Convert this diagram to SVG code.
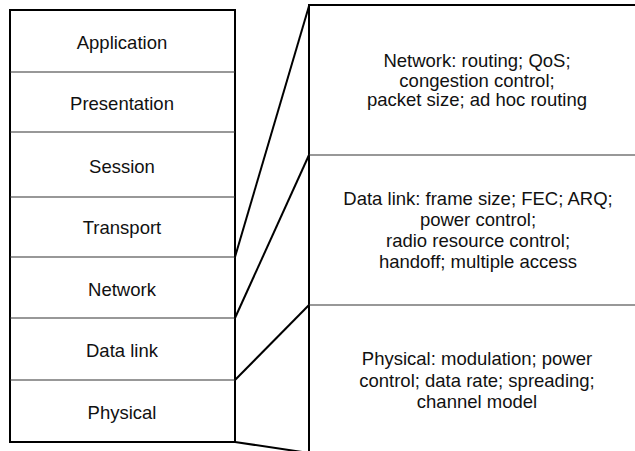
<svg xmlns="http://www.w3.org/2000/svg" width="635" height="451" viewBox="0 0 635 451">
<style>
text{font-family:"Liberation Sans",Arial,Helvetica,sans-serif;font-size:18.5px;fill:#111;text-anchor:middle}
.outer{fill:none;stroke:#000;stroke-width:2}
.div{stroke:#333;stroke-width:1.2}
.con{stroke:#000;stroke-width:2;fill:none}
</style>
<rect width="635" height="451" fill="#fff"/>
<g id="stack">
<rect class="outer" x="10" y="10" width="225" height="432"/>
<line class="div" x1="10" y1="72" x2="235" y2="72"/>
<line class="div" x1="10" y1="132" x2="235" y2="132"/>
<line class="div" x1="10" y1="197" x2="235" y2="197"/>
<line class="div" x1="10" y1="257" x2="235" y2="257"/>
<line class="div" x1="10" y1="318" x2="235" y2="318"/>
<line class="div" x1="10" y1="380" x2="235" y2="380"/>
</g>
<g id="application"><text x="122" y="49">Application</text></g>
<g id="presentation"><text x="122" y="110">Presentation</text></g>
<g id="session"><text x="122" y="172.5">Session</text></g>
<g id="transport"><text x="122" y="234">Transport</text></g>
<g id="network"><text x="122" y="295.5">Network</text></g>
<g id="datalink"><text x="122" y="357">Data link</text></g>
<g id="physical"><text x="122" y="419">Physical</text></g>
<g id="detail-frame">
<line class="con" x1="309" y1="5" x2="635" y2="5"/>
<line class="con" x1="309" y1="4" x2="309" y2="451"/>
<line class="div" x1="309" y1="155" x2="635" y2="155"/>
<line class="div" x1="309" y1="305" x2="635" y2="305"/>
</g>
<g id="network-detail">
<text x="477" y="67">Network: routing; QoS;</text>
<text x="477" y="86.5">congestion control;</text>
<text x="477" y="106">packet size; ad hoc routing</text>
</g>
<g id="datalink-detail">
<text x="478" y="205">Data link: frame size; FEC; ARQ;</text>
<text x="478" y="226">power control;</text>
<text x="478" y="247">radio resource control;</text>
<text x="478" y="268">handoff; multiple access</text>
</g>
<g id="physical-detail">
<text x="477" y="364.5">Physical: modulation; power</text>
<text x="477" y="386.5">control; data rate; spreading;</text>
<text x="477" y="408">channel model</text>
</g>
<g id="connectors">
<line class="con" x1="235" y1="257" x2="309" y2="6"/>
<line class="con" x1="235" y1="318" x2="309" y2="155"/>
<line class="con" x1="235" y1="380" x2="309" y2="305"/>
<line class="con" x1="235" y1="442" x2="309" y2="453"/>
</g>
</svg>
